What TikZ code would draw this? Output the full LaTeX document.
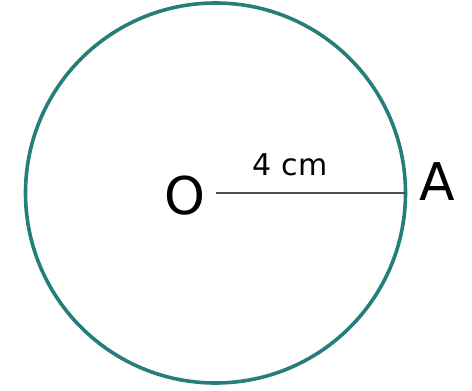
\documentclass[tikz,border=0pt]{standalone}
\usepackage{fontspec}
\setmainfont{DejaVu Sans}
\usetikzlibrary{positioning}
\definecolor{circleteal}{RGB}{38,126,122}
\definecolor{radiusgray}{RGB}{80,80,80}
\tikzset{
    rim/.style={line width=3.6pt,draw=circleteal},
    radius line/.style={line width=2.4pt,draw=radiusgray},
    point label/.style={inner sep=0pt,font=\fontsize{52}{52}\selectfont},
    length label/.style={inner sep=0pt,font=\fontsize{30}{30}\selectfont}
}

\begin{document}
\begin{tikzpicture}[x=1pt,y=-1pt]
    \useasboundingbox (0,0) rectangle (472,391);
    % Centre and point on the circle
    \coordinate (centre) at (215.5,193);
    \coordinate (rimpoint) at (406,193);
    % Circle
    \draw[rim] (centre) circle[radius=190pt];
    % Radius
    \draw[radius line] (centre) -- (rimpoint);
    % Labels
    \node[point label] (labelO) at (185,196) {O};
    \node[point label] (labelA) at (437,182) {A};
    \node[length label] (labelr) at (290,165) {4\,\,cm};
\end{tikzpicture}
\end{document}
